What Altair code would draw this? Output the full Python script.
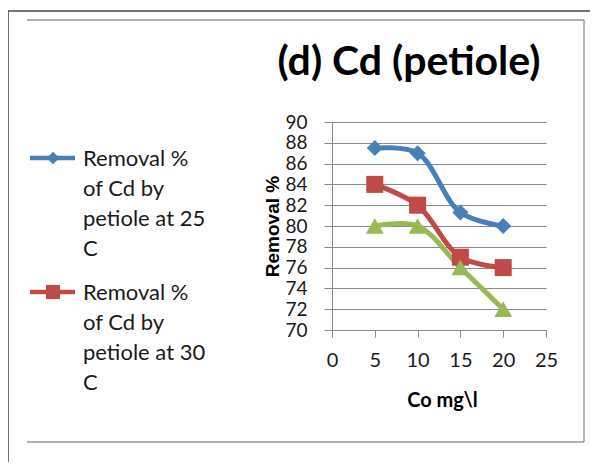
import altair as alt
import pandas as pd

# ---- data ----
conc = [5, 10, 15, 20]
removal_25 = [87.5, 87.0, 81.3, 80.0]
removal_30 = [84.0, 82.0, 77.0, 76.0]
removal_35 = [80.0, 80.0, 76.0, 72.0]
series_names = [
    "Removal % of Cd by petiole at 25 C",
    "Removal % of Cd by petiole at 30 C",
    "Removal % of Cd by petiole at 35 C",
]
series_colors = ["#4a7ebb", "#be4b48", "#98b954"]
series_shapes = ["diamond", "square", "triangle-up"]
series_sizes = [260, 320, 320]
y_ticks = [70, 72, 74, 76, 78, 80, 82, 84, 86, 88, 90]
x_ticks = [0, 5, 10, 15, 20, 25]
legend_lines_25 = ["Removal %", "of Cd by", "petiole at 25", "C"]
legend_lines_30 = ["Removal %", "of Cd by", "petiole at 30", "C"]
title_text = "(d) Cd (petiole)"
x_title = "Co mg\\l"
y_title = "Removal %"

rows = []
for name, vals in zip(series_names, [removal_25, removal_30, removal_35]):
    for c, v in zip(conc, vals):
        rows.append({"conc": c, "removal": v, "series": name})
df = pd.DataFrame(rows)

GRID = "#888888"
FONT = "Lato"

xenc = alt.X(
    "conc:Q",
    scale=alt.Scale(domain=[0, 25], nice=False),
    axis=alt.Axis(
        values=x_ticks, title=x_title, grid=False, domainColor=GRID, tickColor=GRID,
        tickSize=7, labelPadding=13, labelFont=FONT, labelFontSize=20, labelColor="#1a1a1a",
        labelOverlap=False, labelBound=False, labelFlush=False,
        titleFont=FONT, titleFontSize=20, titleFontWeight="bold", titleColor="#000000",
        titleX=110, titleY=70, titleBaseline="middle", titleAlign="center",
    ),
)
yenc = alt.Y(
    "removal:Q",
    scale=alt.Scale(domain=[70, 90], nice=False, zero=False),
    axis=alt.Axis(
        values=y_ticks, title=y_title, grid=True, gridColor=GRID, gridWidth=1.2,
        domainColor=GRID, tickColor=GRID, tickSize=8, labelPadding=17,
        labelFont=FONT, labelFontSize=19, labelColor="#1a1a1a",
        labelOverlap=False, labelBound=False, labelFlush=False,
        titleFont="Liberation Sans", titleFontSize=19, titleFontWeight="bold", titleColor="#000000",
        titleX=-60, titleY=104, titleAngle=270, titleBaseline="middle", titleAlign="center",
    ),
)
color = alt.Color("series:N", scale=alt.Scale(domain=series_names, range=series_colors), legend=None)

base = alt.Chart(df)
lines = base.mark_line(interpolate="catmull-rom", strokeWidth=5).encode(x=xenc, y=yenc, color=color)
points = base.mark_point(filled=True, opacity=1).encode(
    x=xenc, y=yenc, color=color,
    shape=alt.Shape("series:N", scale=alt.Scale(domain=series_names, range=series_shapes), legend=None),
    size=alt.Size("series:N", scale=alt.Scale(domain=series_names, range=series_sizes), legend=None),
)

one = pd.DataFrame({"k": [0]})


def hrule(x1, x2, y, col, w):
    return alt.Chart(one).mark_rule(color=col, strokeWidth=w).encode(
        x=alt.value(x1), x2=alt.value(x2), y=alt.value(y))


def vrule(x, y1, y2, col, w):
    return alt.Chart(one).mark_rule(color=col, strokeWidth=w).encode(
        x=alt.value(x), y=alt.value(y1), y2=alt.value(y2))


frame = [
    hrule(-324, 258, -111, "#444444", 1.5),
    vrule(-324, -111, 340, "#444444", 1.5),
    hrule(-305, 252, -102, "#999999", 1.5),
    vrule(252, -102, 320, "#999999", 1.5),
    hrule(-305, 252, 320, "#999999", 1.5),
]

legend_layers = []
for i, (lines_txt, col, shp, sz) in enumerate([
    (legend_lines_25, series_colors[0], "diamond", 160),
    (legend_lines_30, series_colors[1], "square", 200),
]):
    yc = 36 + i * 134
    legend_layers.append(hrule(-302, -257, yc, col, 4.5))
    legend_layers.append(
        alt.Chart(one).mark_point(filled=True, opacity=1, shape=shp, size=sz, color=col).encode(
            x=alt.value(-279), y=alt.value(yc)))
    legend_layers.append(
        alt.Chart(one).mark_text(align="left", baseline="alphabetic", lineHeight=30,
                                 font=FONT, fontSize=22, color="#1a1a1a").encode(
            x=alt.value(-249), y=alt.value(yc + 8), text=alt.value(lines_txt)))

title = alt.Chart(one).mark_text(align="center", baseline="alphabetic", font=FONT,
                                 fontSize=41, fontWeight="bold", color="#000000").encode(
    x=alt.value(77), y=alt.value(-47), text=alt.value(title_text))

chart = alt.layer(lines, points, *frame, *legend_layers, title).properties(
    width=214, height=208,
    padding={"left": 324, "top": 114, "right": 44, "bottom": 135},
    autosize=alt.AutoSizeParams(type="none"),
).configure_view(stroke=None)

chart.save("out.html", embed_options={"renderer": "svg", "actions": False})
